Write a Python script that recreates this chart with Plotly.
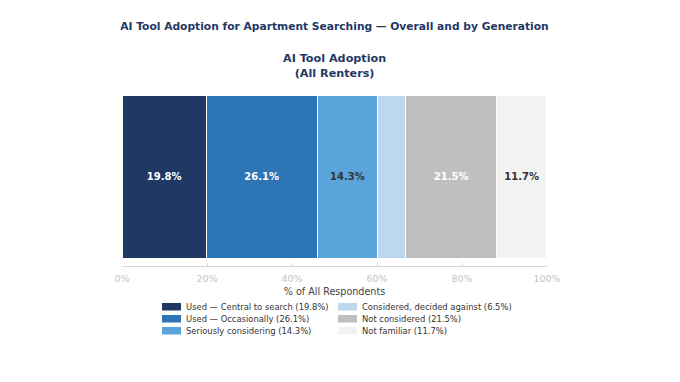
import plotly.graph_objects as go

categories = ["Used — Central to search", "Used — Occasionally", "Seriously considering",
              "Considered, decided against", "Not considered", "Not familiar"]
values = [19.8, 26.1, 14.3, 6.5, 21.5, 11.7]
colors = ["#1f3864", "#2e75b6", "#5ba3db", "#bdd7ee", "#bfbfbf", "#f2f2f2"]
label_colors = ["white", "white", "#333333", "#333333", "white", "#333333"]
show_label = [True, True, True, False, True, True]
tick_vals = [0, 20, 40, 60, 80, 100]
tick_text = ["0%", "20%", "40%", "60%", "80%", "100%"]

FONT = "DejaVu Sans"
W, H = 680, 382
L, R, T, B = 122, 547, 95, 266  # plot area in pixels


def px_x(px):
    return (px - L) / (R - L)


def px_y(py):
    return (B - py) / (B - T)


fig = go.Figure()
for cat, v, c, lc, sl in zip(categories, values, colors, label_colors, show_label):
    fig.add_trace(go.Bar(
        x=[v], y=[0], orientation="h", width=1,
        name=f"{cat} ({v}%)", showlegend=False,
        marker=dict(color=c, line=dict(color="white", width=1)),
        text=[f"{v}%" if sl else ""], textposition="inside", insidetextanchor="middle",
        textangle=0,
        textfont=dict(color=lc, size=10, family=FONT, weight="bold"),
        hoverinfo="name",
    ))

# custom legend: two columns, column-major order
shapes = []
annotations = [dict(text="<b>AI Tool Adoption<br>(All Renters)</b>", xref="paper", yref="paper",
                    x=0.5, y=px_y(65.5), xanchor="center", yanchor="middle",
                    showarrow=False, font=dict(size=11.2, color="#1f3864", family=FONT))]
col_x = [162, 338]
row_y = [307, 319, 331]
for i, (cat, v, c) in enumerate(zip(categories, values, colors)):
    cx = col_x[i // 3]
    ry = row_y[i % 3]
    shapes.append(dict(type="rect", xref="paper", yref="paper",
                       x0=px_x(cx), x1=px_x(cx + 19), y0=px_y(ry - 4), y1=px_y(ry + 3.5),
                       fillcolor=c, line=dict(width=0)))
    annotations.append(dict(text=f"{cat} ({v}%)", xref="paper", yref="paper",
                            x=px_x(cx + 22), y=px_y(ry), xanchor="left", yanchor="middle",
                            showarrow=False, font=dict(size=8.4, color="#333333", family=FONT)))

fig.update_layout(
    width=W, height=H, barmode="stack",
    margin=dict(l=L, r=W - R, t=T, b=H - B, autoexpand=False),
    paper_bgcolor="white", plot_bgcolor="white",
    font=dict(family=FONT, color="#333333"),
    title=dict(text="<b>AI Tool Adoption for Apartment Searching — Overall and by Generation</b>",
               x=0.5, xref="paper", xanchor="center", y=1 - 26 / H, yanchor="middle",
               font=dict(size=10.7, color="#1f3864", family=FONT)),
    annotations=annotations,
    shapes=shapes,
    xaxis=dict(range=[0, 100], tickvals=tick_vals, ticktext=tick_text, showgrid=False,
               zeroline=False, showline=True, linecolor="#d9d9d9", linewidth=1,
               ticks="inside", ticklen=3, tickcolor="#d9d9d9", ticklabelstandoff=4,
               tickfont=dict(size=9.5, color="#c4c4c4"),
               title=dict(text="% of All Respondents", standoff=4,
                          font=dict(size=9.6, color="#444444"))),
    yaxis=dict(range=[-0.543, 0.5], visible=False, fixedrange=True),
    showlegend=False,
)
fig.write_html("out.html")
